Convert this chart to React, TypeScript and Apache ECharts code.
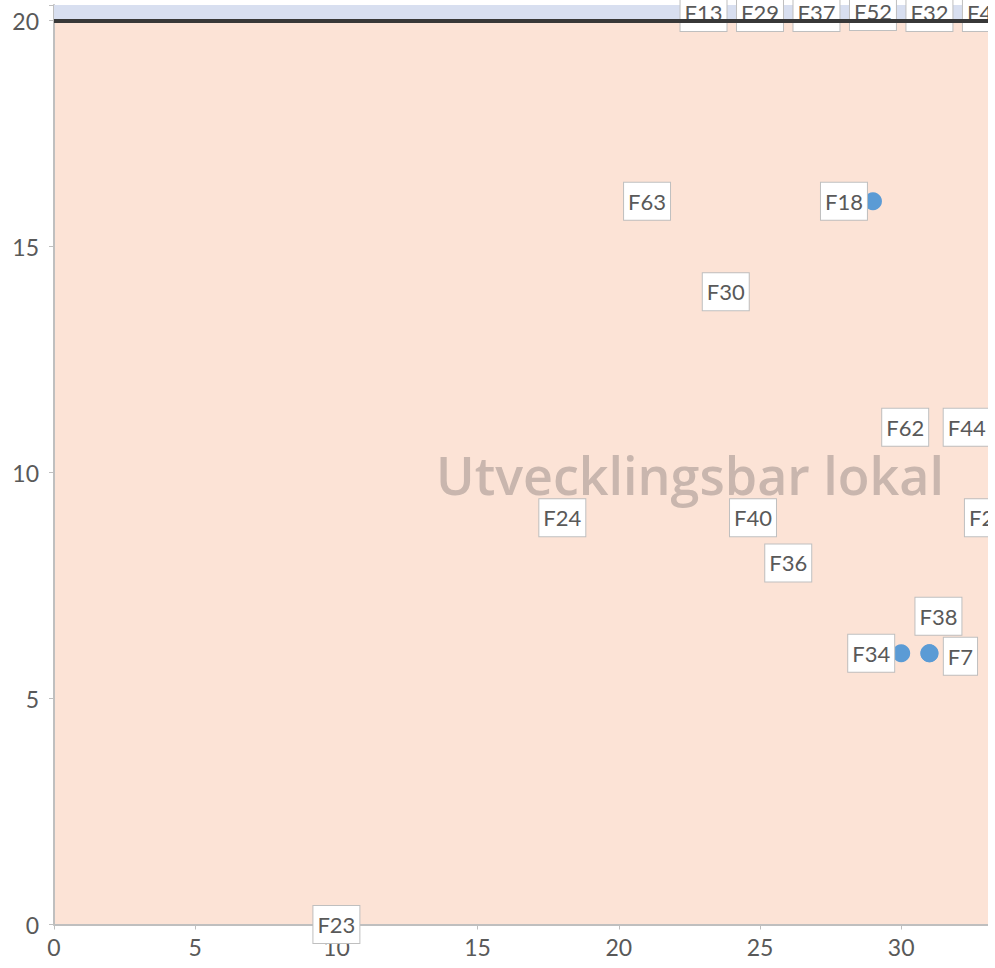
import React, { useEffect, useRef } from "react";
import * as echarts from "echarts";

const names = ["F13", "F29", "F37", "F52", "F32", "F43", "F63", "F18", "F30", "F62", "F44", "F24", "F40", "F27", "F36", "F38", "F7", "F34", "F23"];
const xValues = [23, 25, 27, 29, 31, 33, 21, 29, 24, 30, 32, 18, 25, 33, 26, 31, 31, 30, 10];
const yValues = [20, 20, 20, 20, 20, 20, 16, 16, 14, 11, 11, 9, 9, 9, 8, 6, 6, 6, 0];
const xTicks = [0, 5, 10, 15, 20, 25, 30, 35];
const yTicks = [0, 5, 10, 15, 20];
const watermark = "Utvecklingsbar lokal";

// label placement (layout only)
const labelOffsets: Record<string, [number, number]> = {
  F13: [0, -8], F29: [0, -8], F37: [0, -8], F52: [0, -9], F32: [0, -8], F43: [0, -8],
  F18: [-29, 0], F34: [-30, 0], F38: [9, -37], F7: [31, 3],
  F30: [-6, 0], F40: [-7, 0], F44: [9, 0], F62: [4, 0], F27: [2, 0],
};

const FONT = 'Lato, "Open Sans", sans-serif';

export default function App() {
  const ref = useRef<HTMLDivElement>(null);
  useEffect(() => {
    if (!ref.current) return;
    const chart = echarts.init(ref.current, undefined, { renderer: "svg" });
    const data = names.map((n, i) => ({
      name: n,
      value: [xValues[i], yValues[i]],
      label: { offset: labelOffsets[n] || [0, 0] },
    }));
    chart.setOption({
      animation: false,
      grid: {
        left: 54,
        top: 5,
        right: 1100 - 54 - 36 * 28.24,
        bottom: 43.5,
        show: true,
        backgroundColor: "#FCE3D6",
        borderWidth: 0,
      },
      graphic: [
        {
          type: "text",
          x: 690,
          y: 474,
          z: 1,
          style: {
            text: watermark,
            fontSize: 52,
            fontWeight: 600,
            fontFamily: '"Open Sans", sans-serif',
            fill: "rgba(150,138,134,0.5)",
            align: "center",
            verticalAlign: "middle",
            shadowBlur: 10,
            shadowColor: "rgba(150,138,134,0.9)",
          },
        },
      ],
      xAxis: {
        type: "value",
        min: 0,
        max: 36,
        interval: 5,
        axisLine: { show: true, lineStyle: { color: "#BFBFBF", width: 2 } },
        axisTick: { show: true, length: 5, lineStyle: { color: "#BFBFBF" } },
        axisLabel: {
          color: "#595959",
          fontSize: 23,
          fontFamily: FONT,
          margin: 11,
          formatter: (v: number) => (xTicks.includes(v) ? String(v) : ""),
        },
        splitLine: { show: false },
      },
      yAxis: {
        type: "value",
        min: 0,
        max: 919.5 / 45.2,
        interval: 5,
        axisLine: { show: true, lineStyle: { color: "#BFBFBF", width: 2 } },
        axisTick: { show: true, length: 5, lineStyle: { color: "#BFBFBF" } },
        axisLabel: {
          color: "#595959",
          fontSize: 23,
          fontFamily: FONT,
          margin: 15,
          formatter: (v: number) => (yTicks.includes(v) ? String(v) : ""),
        },
        splitLine: { show: false },
      },
      series: [
        {
          type: "scatter",
          symbol: "circle",
          symbolSize: 18,
          itemStyle: { color: "#5B9BD5", opacity: 1 },
          z: 3,
          data,
          label: {
            show: true,
            position: "inside",
            formatter: "{b}",
            color: "#595959",
            fontSize: 22,
            fontFamily: FONT,
            backgroundColor: "#FFFFFF",
            borderColor: "#BFBFBF",
            borderWidth: 1,
            padding: [8, 4, 7, 4],
            opacity: 1,
          },
          markArea: {
            silent: true,
            itemStyle: { color: "#D8DFF0" },
            data: [[{ yAxis: 20 }, { yAxis: 919.5 / 45.2 }]],
          },
          markLine: {
            silent: true,
            symbol: "none",
            label: { show: false },
            lineStyle: { color: "#383838", width: 4, type: "solid" },
            data: [{ yAxis: 20 }],
          },
        },
      ],
    });
    return () => chart.dispose();
  }, []);
  return (
    <div style={{ position: "absolute", left: 0, top: 0, width: 988, height: 968, overflow: "hidden", background: "#fff" }}>
      <div ref={ref} style={{ width: 1100, height: 968 }} />
    </div>
  );
}
